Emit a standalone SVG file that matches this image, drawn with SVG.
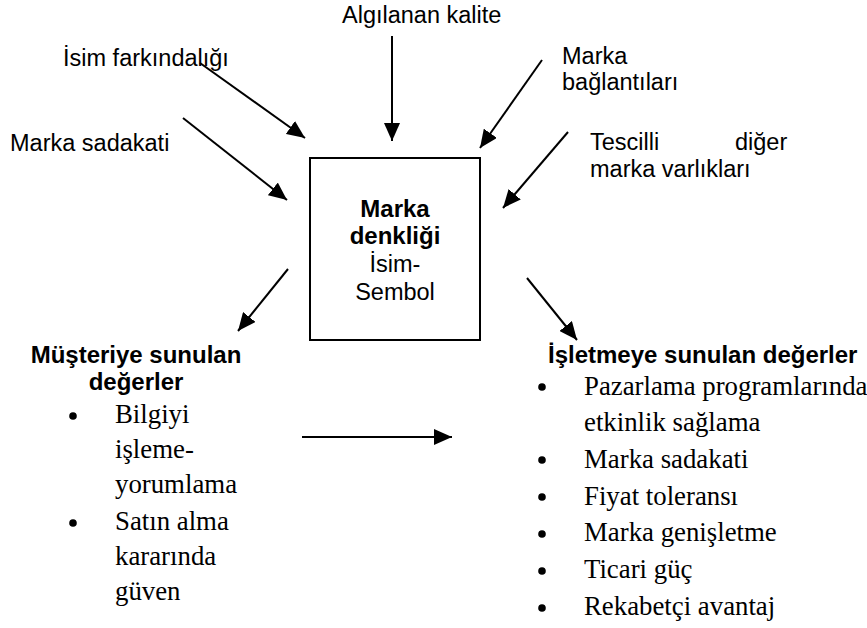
<svg xmlns="http://www.w3.org/2000/svg" width="867" height="628" viewBox="0 0 867 628">
<style>
.s{font-family:"Liberation Sans",Arial,sans-serif;font-size:23.5px;fill:#000}
.b{font-weight:bold;font-size:24px}
.t{font-family:"Liberation Serif","Times New Roman",serif;font-size:26.8px;fill:#000}
.c{text-anchor:middle}
.ln{stroke:#000;stroke-width:2;fill:none}
</style>
<defs>
<marker id="ah" viewBox="0 0 18 16" refX="18" refY="8" markerWidth="18" markerHeight="16" markerUnits="userSpaceOnUse" orient="auto">
<path d="M0,0 L18,8 L0,16 z" fill="#000"/>
</marker>
</defs>
<rect width="867" height="628" fill="#fff"/>
<g id="connectors">
<line class="ln" x1="392" y1="36" x2="392" y2="141" marker-end="url(#ah)"/>
<line class="ln" x1="200" y1="63" x2="305" y2="138" marker-end="url(#ah)"/>
<line class="ln" x1="183" y1="118" x2="287" y2="200" marker-end="url(#ah)"/>
<line class="ln" x1="542" y1="60" x2="480" y2="148" marker-end="url(#ah)"/>
<line class="ln" x1="568" y1="132" x2="503" y2="208" marker-end="url(#ah)"/>
<line class="ln" x1="288" y1="269" x2="238" y2="331" marker-end="url(#ah)"/>
<line class="ln" x1="527" y1="278" x2="577" y2="340" marker-end="url(#ah)"/>
<line class="ln" x1="302" y1="437" x2="452" y2="437" marker-end="url(#ah)"/>
</g>
<g id="algilanan-kalite"><text class="s" x="342" y="23">Algılanan kalite</text></g>
<g id="isim-farkindaligi"><text class="s" x="63" y="66">İsim farkındalığı</text></g>
<g id="marka-sadakati"><text class="s" x="10" y="151">Marka sadakati</text></g>
<g id="marka-baglantilari"><text class="s" x="562" y="64">Marka</text><text class="s" x="562" y="90">bağlantıları</text></g>
<g id="tescilli"><text class="s" x="590" y="150">Tescilli<tspan x="735">diğer</tspan></text><text class="s" x="590" y="177">marka varlıkları</text></g>
<g id="marka-denkligi">
<rect x="310" y="158" width="170" height="182" class="ln"/>
<text class="s b c" x="395" y="217">Marka</text>
<text class="s b c" x="395" y="244">denkliği</text>
<text class="s c" x="395" y="272">İsim-</text>
<text class="s c" x="395" y="300">Sembol</text>
</g>
<g id="musteriye-sunulan">
<text class="s b c" x="136" y="363">Müşteriye sunulan</text>
<text class="s b c" x="136" y="390">değerler</text>
<circle cx="73" cy="416" r="3.8"/>
<text class="t" x="115" y="423">Bilgiyi</text>
<text class="t" x="115" y="458">işleme-</text>
<text class="t" x="115" y="493">yorumlama</text>
<circle cx="73" cy="523" r="3.8"/>
<text class="t" x="115" y="530">Satın alma</text>
<text class="t" x="115" y="565">kararında</text>
<text class="t" x="115" y="600">güven</text>
</g>
<g id="isletmeye-sunulan">
<text class="s b" x="548" y="363">İşletmeye sunulan değerler</text>
<circle cx="542" cy="387" r="3.8"/>
<text class="t" x="584" y="395">Pazarlama programlarında</text>
<text class="t" x="584" y="431">etkinlik sağlama</text>
<circle cx="542" cy="460" r="3.8"/>
<text class="t" x="584" y="468">Marka sadakati</text>
<circle cx="542" cy="497" r="3.8"/>
<text class="t" x="584" y="505">Fiyat toleransı</text>
<circle cx="542" cy="534" r="3.8"/>
<text class="t" x="584" y="541">Marka genişletme</text>
<circle cx="542" cy="571" r="3.8"/>
<text class="t" x="584" y="578">Ticari güç</text>
<circle cx="542" cy="608" r="3.8"/>
<text class="t" x="584" y="615">Rekabetçi avantaj</text>
</g>
</svg>
